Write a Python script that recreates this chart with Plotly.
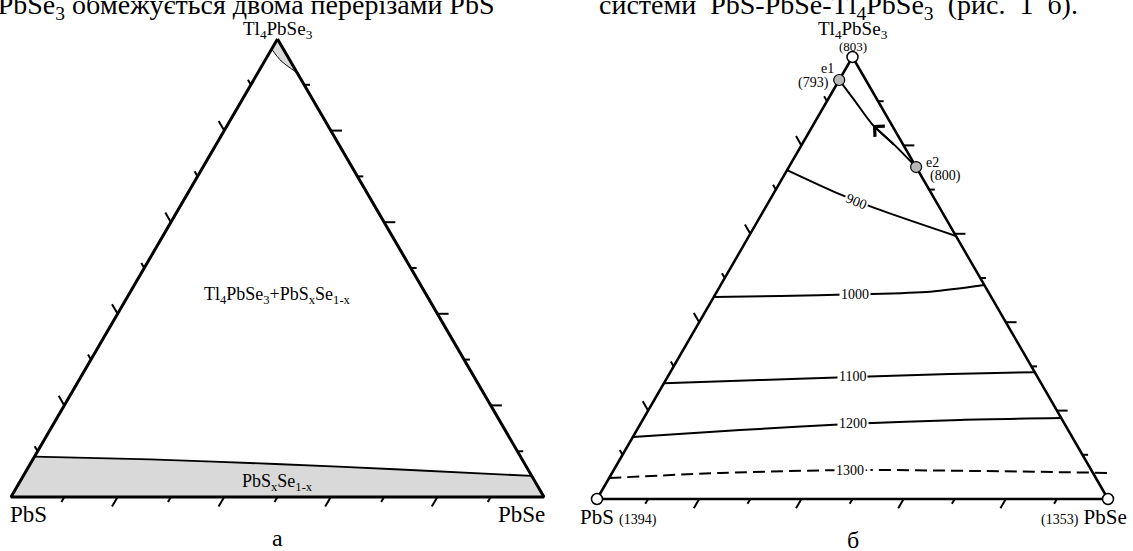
import plotly.graph_objects as go

W, H = 1133, 551
FONT = "Liberation Serif"

# ---------------- data ----------------
# compositions: a = Tl4PbSe3 fraction (top), c = PbSe fraction (bottom right), PbS = 1 - a - c
TICKS = [0.1, 0.2, 0.3, 0.4, 0.5, 0.6, 0.7, 0.8, 0.9]
LONG_TICKS = [0.2, 0.4, 0.6, 0.8]

TOP_NAME = "Tl<sub>4</sub>PbSe<sub>3</sub>"
LEFT_NAME = "PbS"
RIGHT_NAME = "PbSe"
TOP_T, LEFT_T, RIGHT_T = 803, 1394, 1353

# panel а: solid-solution band along PbS-PbSe and small Tl4PbSe3 region
band_a = [0.088, 0.082, 0.072, 0.060, 0.046]
band_c = [0.000, 0.220, 0.460, 0.700, 0.954]
tip_a = [0.978, 0.952, 0.926]
tip_c = [0.000, 0.031, 0.074]
region_text = ["Tl<sub>4</sub>PbSe<sub>3</sub>+PbS<sub>x</sub>Se<sub>1-x</sub>",
               "PbS<sub>x</sub>Se<sub>1-x</sub>"]
region_a = [0.440, 0.031]
region_c = [0.280, 0.485]

# panel б: eutectics, monovariant curve and liquidus isotherms
eut_names = ["e1", "e2"]
eut_T = [793, 800]
eut_a = [0.948, 0.751]
eut_c = [0.000, 0.249]
mono_a = [0.751, 0.800, 0.846, 0.900, 0.948]
mono_c = [0.249, 0.183, 0.117, 0.055, 0.000]

iso_T = [900, 1000, 1100, 1200, 1300]
iso_a = [[0.744, 0.692, 0.658, 0.595],
         [0.457, 0.459, 0.463, 0.469, 0.484],
         [0.262, 0.269, 0.276, 0.283, 0.287],
         [0.140, 0.156, 0.170, 0.179, 0.183],
         [0.0475, 0.0588, 0.0656, 0.0633, 0.059]]
iso_c = [[0.000, 0.124, 0.215, 0.405],
         [0.000, 0.129, 0.273, 0.418, 0.516],
         [0.000, 0.185, 0.363, 0.549, 0.713],
         [0.000, 0.202, 0.416, 0.621, 0.817],
         [0.000, 0.211, 0.468, 0.718, 0.9705]]
iso_label_a = [0.674, 0.463, 0.277, 0.170, 0.0656]
iso_label_c = [0.170, 0.273, 0.362, 0.416, 0.468]
iso_label_text = ["900", "1000", "1100", "1200", "1300·"]

top_text_left = "Tl<sub>4</sub>PbSe<sub>3</sub> обмежується двома перерізами PbS"
top_text_right = ("системи\u00a0\u00a0PbS-PbSe-Tl<sub>4</sub>PbSe<sub>3</sub>\u00a0\u00a0(рис."
                  "\u00a0\u00a01\u00a0\u00a0б).")
panel_letters = ["а", "б"]


def xy(a, c):
    return [ci + ai / 2 for ai, ci in zip(a, c)], list(a)


fig = go.Figure()


def line(xa, ya, a, c, width=2, dash=None, fill=None, fillcolor=None, shape="linear"):
    x, y = xy(a, c)
    fig.add_trace(go.Scatter(
        x=x, y=y, mode="lines", xaxis=xa, yaxis=ya, hoverinfo="skip",
        line=dict(color="black", width=width, dash=dash, shape=shape, smoothing=0.8),
        fill=fill, fillcolor=fillcolor, showlegend=False))


def frame(xa, ya, lw):
    line(xa, ya, [1, 0, 0, 1], [0, 0, 1, 0], width=lw)
    tx, ty = [], []
    for t in TICKS:
        L = 0.021 if t in LONG_TICKS else 0.011
        segs = [((0, t), (-L, t)),              # base (constant PbSe)
                ((t, 1 - t), (t, 1 - t + L)),   # right side (constant Tl4PbSe3)
                ((t, 0), (t + L, -L))]          # left side (constant PbS)
        for (a0, c0), (a1, c1) in segs:
            sx, sy = xy([a0, a1], [c0, c1])
            tx += sx + [None]
            ty += sy + [None]
    fig.add_trace(go.Scatter(x=tx, y=ty, mode="lines", xaxis=xa, yaxis=ya,
                             hoverinfo="skip", showlegend=False,
                             line=dict(color="black", width=2)))


def ann(xa, ya, a, c, text, size, **kw):
    x, y = xy([a], [c])
    fig.add_annotation(xref=xa, yref=ya, x=x[0], y=y[0], text=text, showarrow=False,
                       font=dict(family=FONT, size=size, color="black"), **kw)


# ---------------- panel а ----------------
XA, YA = "x", "y"
line(XA, YA, [0] + band_a + [0, 0], [0] + band_c + [1, 0], width=0,
     fill="toself", fillcolor="#d9d9d9")
line(XA, YA, band_a, band_c, width=1.8, shape="spline")
line(XA, YA, tip_a + [1, tip_a[0]], tip_c + [0, tip_c[0]], width=0,
     fill="toself", fillcolor="#d9d9d9")
line(XA, YA, tip_a, tip_c, width=1, shape="spline")
frame(XA, YA, 3)

ann(XA, YA, 1, 0, TOP_NAME, 19, yanchor="bottom", yshift=-5)
ann(XA, YA, 0, 0, LEFT_NAME, 23, xanchor="left", yanchor="top", yshift=-3, xshift=-3)
ann(XA, YA, 0, 1, RIGHT_NAME, 23, xanchor="right", yanchor="top", yshift=-3, xshift=3)
ann(XA, YA, 0, 0.5, panel_letters[0], 24, yanchor="top", yshift=-26, height=26, valign="top")
for t, a, c in zip(region_text, region_a, region_c):
    ann(XA, YA, a, c, t, 18)

# ---------------- panel б ----------------
XB, YB = "x2", "y2"
for k in range(len(iso_T)):
    line(XB, YB, iso_a[k], iso_c[k], width=2, shape="spline",
         dash="12px,6px" if iso_T[k] == 1300 else None)
line(XB, YB, mono_a, mono_c, width=2, shape="spline")
frame(XB, YB, 2.5)

# arrow on the monovariant curve (towards e1)
ax_, ay_ = xy([mono_a[1]], [mono_c[1]])
hx, hy = xy([mono_a[2]], [mono_c[2]])
fig.add_annotation(xref=XB, yref=YB, axref=XB, ayref=YB, x=hx[0], y=hy[0],
                   ax=ax_[0], ay=ay_[0], text="", showarrow=True, arrowhead=4,
                   arrowsize=1.4, arrowwidth=2, arrowcolor="black", standoff=0)

# vertices (open circles) and eutectics (grey circles)
vx, vy = xy([1, 0, 0], [0, 0, 1])
fig.add_trace(go.Scatter(x=vx, y=vy, mode="markers", xaxis=XB, yaxis=YB, hoverinfo="skip",
                         showlegend=False, cliponaxis=False,
                         marker=dict(size=11, color="white", line=dict(color="black", width=1.5))))
ex, ey = xy(eut_a, eut_c)
fig.add_trace(go.Scatter(x=ex, y=ey, mode="markers", xaxis=XB, yaxis=YB, hoverinfo="skip",
                         showlegend=False, cliponaxis=False,
                         marker=dict(size=11, color="#b8b8b8", line=dict(color="black", width=1.2))))

for k in range(len(iso_T)):
    ann(XB, YB, iso_label_a[k], iso_label_c[k], iso_label_text[k], 14,
        bgcolor="white", borderpad=1, textangle=22 if iso_T[k] == 900 else 0)

ann(XB, YB, 1, 0, f"({TOP_T})", 13, yanchor="bottom", yshift=1)
ann(XB, YB, 1, 0, TOP_NAME, 19, yanchor="bottom", yshift=13)
ann(XB, YB, 0, 0, f"{LEFT_NAME} <span style='font-size:14px'>({LEFT_T})</span>", 21,
    xanchor="left", yanchor="top", yshift=-4, xshift=-19)
ann(XB, YB, 0, 1, f"<span style='font-size:14px'>({RIGHT_T})</span> {RIGHT_NAME}", 21,
    xanchor="right", yanchor="top", yshift=-4, xshift=21)
ann(XB, YB, 0, 0.5, panel_letters[1], 24, yanchor="top", yshift=-26, height=26, valign="top")

ann(XB, YB, eut_a[0], eut_c[0], eut_names[0], 14, xanchor="right", yanchor="bottom",
    xshift=-3, yshift=2)
ann(XB, YB, eut_a[0], eut_c[0], f"({eut_T[0]})", 14, xanchor="right", yanchor="middle",
    xshift=-8, yshift=-3)
ann(XB, YB, eut_a[1], eut_c[1], eut_names[1], 14, xanchor="left", yanchor="middle",
    xshift=8, yshift=5)
ann(XB, YB, eut_a[1], eut_c[1], f"({eut_T[1]})", 14, xanchor="left", yanchor="middle",
    xshift=12, yshift=-9)

# cropped text lines of the page above the figure
fig.add_annotation(xref="paper", yref="paper", x=497 / W, y=1, xanchor="right", yanchor="middle",
                   yshift=-6, text=top_text_left, showarrow=False,
                   font=dict(family=FONT, size=28, color="black"))
fig.add_annotation(xref="paper", yref="paper", x=597 / W, y=1, xanchor="left", yanchor="middle",
                   yshift=-6, text=top_text_right, showarrow=False,
                   font=dict(family=FONT, size=28, color="black"))


# ---------------- axes placement ----------------
def ranges(dom, left, right, base, apex):
    d0, d1 = dom[0] * W, dom[1] * W
    sx = right - left
    sy = base - apex
    return [(d0 - left) / sx, (d1 - left) / sx], [(base - H) / sy, base / sy]


hidden = dict(visible=False, showgrid=False, zeroline=False, fixedrange=True)
xr1, yr1 = ranges((0, 0.5), 11, 544, 497, 39)
xr2, yr2 = ranges((0.5, 1), 597, 1108, 499, 57)

fig.update_layout(
    width=W, height=H, margin=dict(l=0, r=0, t=0, b=0),
    paper_bgcolor="white", plot_bgcolor="white", showlegend=False,
    xaxis=dict(domain=[0, 0.5], range=xr1, **hidden),
    yaxis=dict(domain=[0, 1], range=yr1, **hidden),
    xaxis2=dict(domain=[0.5, 1], range=xr2, **hidden),
    yaxis2=dict(domain=[0, 1], range=yr2, **hidden),
)

fig.write_html("out.html", config={"displayModeBar": False},
               post_script="document.body.style.margin='0';"
                           "document.body.style.overflow='hidden';")
